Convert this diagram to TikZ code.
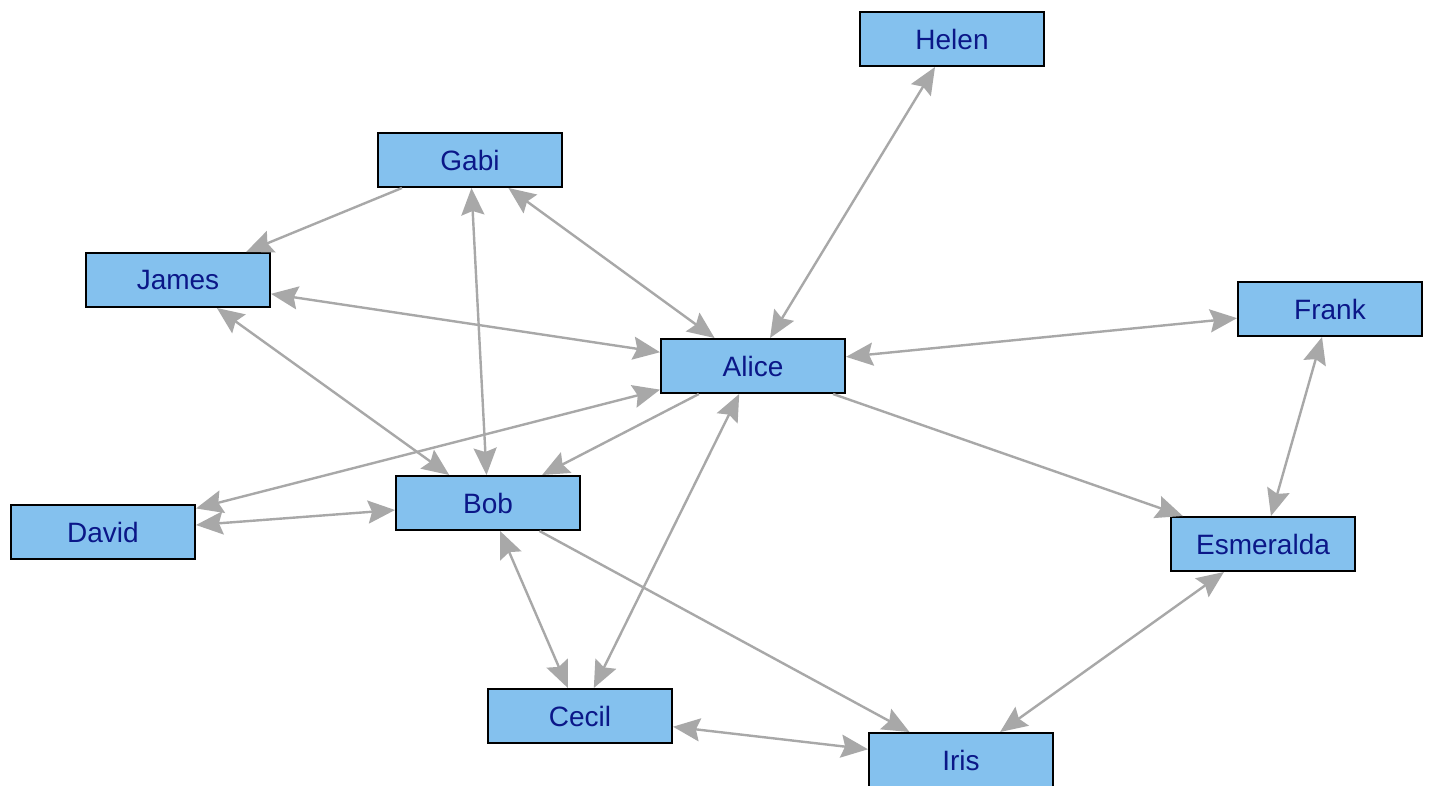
\documentclass[tikz,border=0pt]{standalone}
\usepackage{fontspec}
\setmainfont{Liberation Sans}
\usetikzlibrary{arrows.meta}
\definecolor{boxfill}{HTML}{84C1EE}
\definecolor{labelblue}{HTML}{0B1788}
\definecolor{edgegray}{HTML}{A8A8A8}
\tikzset{
  person/.style={draw=black, line width=2pt, fill=boxfill, minimum width=184pt,
    minimum height=54pt, inner sep=0pt, text=labelblue,
    font=\fontsize{28}{32}\selectfont},
  edge/.style={draw=edgegray, line width=2.4pt,
    >={Stealth[length=27pt, width=23pt, inset=4pt]}},
  link/.style={edge, ->},
  both/.style={edge, <->}
}
\begin{document}
\begin{tikzpicture}[x=1pt, y=-1pt]
  \useasboundingbox (0,0) rectangle (1431,785);
  \clip (0,0) rectangle (1431,785);
  \fill[white] (0,0) rectangle (1431,785);

  % people
  \node[person] (helen) at (952,39)  {Helen};
  \node[person] (gabi)  at (470,160) {Gabi};
  \node[person] (james) at (178,280) {James};
  \node[person] (frank) at (1330,309) {Frank};
  \node[person] (alice) at (753,366) {Alice};
  \node[person] (bob)   at (488,503) {Bob};
  \node[person] (david) at (103,532) {David};
  \node[person] (esme)  at (1263,544) {Esmeralda};
  \node[person] (cecil) at (580,716) {Cecil};
  \node[person] (iris)  at (961,760) {Iris};

  % relations
  \draw[both] (alice) -- (helen);
  \draw[link] (gabi)  -- (james);
  \draw[both] (gabi)  -- (alice);
  \draw[both] (gabi)  -- (bob);
  \draw[both] (james) -- (alice);
  \draw[both] (james) -- (bob);
  \draw[both] (alice) -- (frank);
  \draw[link] (alice) -- (bob);
  \draw[both] (alice) -- (david);
  \draw[both] (david) -- (bob);
  \draw[link] (alice) -- (esme);
  \draw[both] (frank) -- (esme);
  \draw[both] (bob)   -- (cecil);
  \draw[both] (alice) -- (cecil);
  \draw[link] (bob)   -- (iris);
  \draw[both] (cecil) -- (iris);
  \draw[both] (esme)  -- (iris);
\end{tikzpicture}
\end{document}
